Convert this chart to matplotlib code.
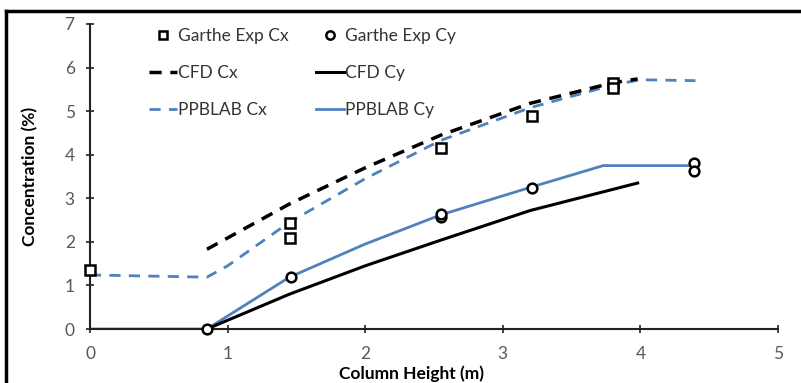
import matplotlib
matplotlib.use("Agg")
import matplotlib.pyplot as plt
from matplotlib.lines import Line2D

plt.rcParams['font.family'] = ['Lato', 'DejaVu Sans']

# Garthe experimental points
exp_cx_x = [0.0, 1.45, 1.45, 2.55, 3.21, 3.80, 3.80]
exp_cx_y = [1.35, 2.43, 2.08, 4.16, 4.89, 5.64, 5.54]
exp_cy_x = [0.85, 1.46, 2.55, 2.55, 3.21, 4.39, 4.39]
exp_cy_y = [0.0, 1.19, 2.58, 2.64, 3.24, 3.80, 3.62]

# CFD curves
cfd_cx_x = [0.85, 1.45, 2.0, 2.55, 3.2, 3.8, 3.98]
cfd_cx_y = [1.83, 2.87, 3.70, 4.45, 5.18, 5.65, 5.74]
cfd_cy_x = [0.85, 1.45, 2.0, 2.55, 3.2, 3.98]
cfd_cy_y = [0.0, 0.80, 1.45, 2.04, 2.72, 3.35]

# PPBLAB curves
pp_cx_x = [0.0, 0.85, 1.0, 1.45, 2.0, 2.55, 3.2, 3.8, 4.0, 4.4]
pp_cx_y = [1.24, 1.19, 1.45, 2.45, 3.45, 4.33, 5.08, 5.60, 5.72, 5.70]
pp_cy_x = [0.0, 0.85, 1.45, 2.0, 2.55, 3.2, 3.73, 4.4]
pp_cy_y = [0.0, 0.0, 1.19, 1.95, 2.62, 3.25, 3.75, 3.75]

blue = '#4F81BD'
gray = '#595959'

fig = plt.figure(figsize=(8.01, 3.83), dpi=100)
ax = fig.add_axes([90/801, 1-329/383, (778-90)/801, (329-24)/383])

ax.plot(pp_cy_x, pp_cy_y, color=blue, lw=2, zorder=2)
ax.plot(cfd_cy_x, cfd_cy_y, color='black', lw=2.2, zorder=2)
ax.plot(pp_cx_x, pp_cx_y, color=blue, lw=2, ls=(0, (4, 3)), zorder=2)
ax.plot(cfd_cx_x, cfd_cx_y, color='black', lw=2.5, ls=(0, (3.5, 2.5)), zorder=2)
ax.plot(exp_cx_x, exp_cx_y, ls='none', marker='s', ms=7, mfc='white',
        mec='black', mew=1.8, zorder=3, clip_on=False)
ax.plot(exp_cy_x, exp_cy_y, ls='none', marker='o', ms=7, mfc='white',
        mec='black', mew=1.8, zorder=3, clip_on=False)

ax.set_xlim(0, 5)
ax.set_ylim(0, 7)
ax.set_xticks(range(0, 6))
ax.set_yticks(range(0, 8))
for s in ['top', 'right']:
    ax.spines[s].set_visible(False)
for s in ['left', 'bottom']:
    ax.spines[s].set_linewidth(1.5)
    ax.spines[s].set_color('#222222')
ax.tick_params(direction='inout', length=6, width=1.2, colors='#222222',
               labelcolor=gray, labelsize=12.5)
ax.tick_params(axis='x', pad=9)
ax.tick_params(axis='y', pad=8)
ax.set_xlabel('Column Height (m)', fontsize=12.5, fontweight='bold')
ax.set_ylabel('Concentration (%)', fontsize=12.5, fontweight='bold')
ax.xaxis.set_label_coords(0.468, -0.118)
ax.yaxis.set_label_coords(-0.075, 0.5)

handles = [
    Line2D([], [], ls='none', marker='s', ms=6, mfc='white', mec='black', mew=1.8),
    Line2D([], [], color='black', lw=2.5, ls=(0, (3.5, 2.5))),
    Line2D([], [], color=blue, lw=2, ls=(0, (4, 3))),
    Line2D([], [], ls='none', marker='o', ms=6, mfc='white', mec='black', mew=1.8),
    Line2D([], [], color='black', lw=2.2),
    Line2D([], [], color=blue, lw=2),
]
labels = ['Garthe Exp Cx', 'CFD Cx', 'PPBLAB Cx',
          'Garthe Exp Cy', 'CFD Cy', 'PPBLAB Cy']
fig.legend(handles, labels, ncol=2, loc='upper left',
           bbox_to_anchor=(149/801, 1-28/383), frameon=False, fontsize=12.5,
           handlelength=1.6, handletextpad=0.05, columnspacing=1.6,
           labelspacing=1.2, borderpad=0, borderaxespad=0, labelcolor='#333333')

# outer frame of the picture
fig.add_artist(Line2D([6/801, 1], [1-11/383, 1-11/383], color='black', lw=2.5,
                      transform=fig.transFigure))
fig.add_artist(Line2D([6/801, 6/801], [0, 1-11/383], color='black', lw=2.5,
                      transform=fig.transFigure))

fig.savefig('out.png', dpi=100)
